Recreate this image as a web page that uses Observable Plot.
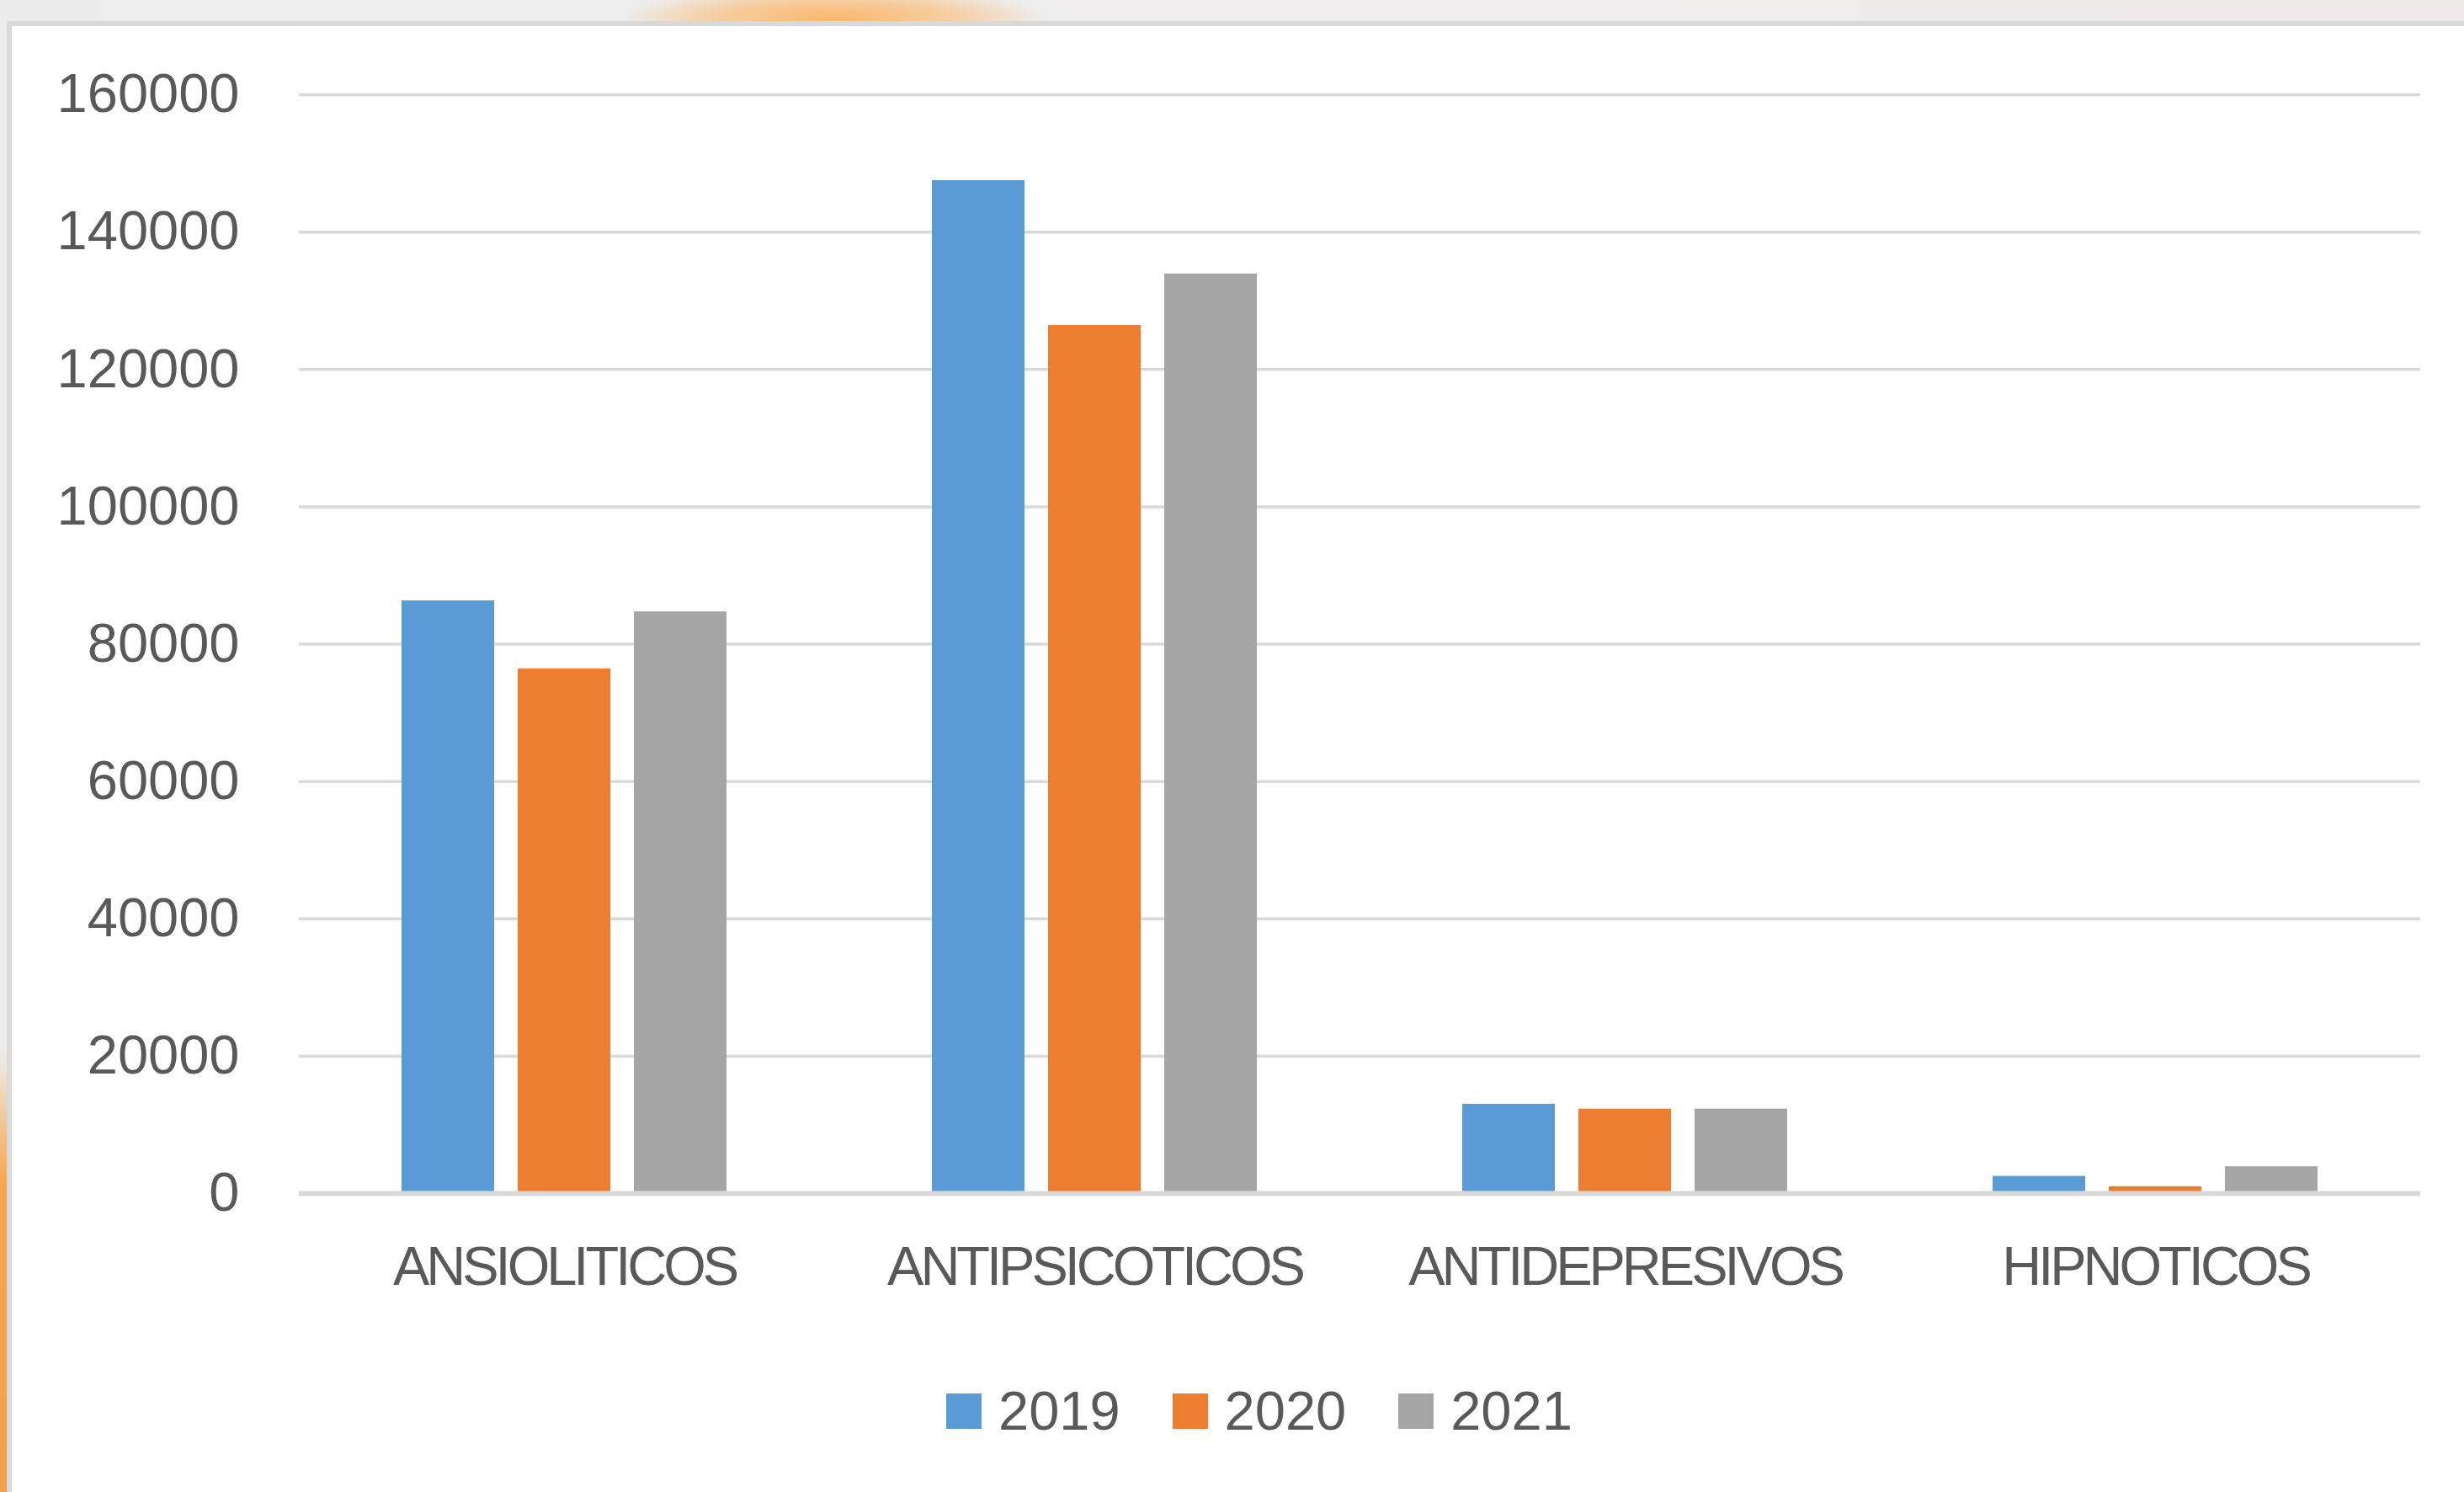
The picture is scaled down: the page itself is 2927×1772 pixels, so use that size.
<!DOCTYPE html>
<html>
<head>
<meta charset="utf-8">
<script src="https://cdn.jsdelivr.net/npm/d3@7"></script>
<script src="https://cdn.jsdelivr.net/npm/@observablehq/plot@0.6"></script>
<style>
  html, body { margin: 0; padding: 0; }
  body {
    width: 2927px; height: 1772px; overflow: hidden; position: relative;
    background:
      radial-gradient(ellipse 250px 40px at 990px 22px, #fbb86c 0%, rgba(251,184,108,0.6) 55%, rgba(251,184,108,0) 100%),
      linear-gradient(to right, #ececec, #efeded 60%, #ece9e8);
    font-family: "Liberation Sans", Arial, sans-serif;
  }
  #leftstrip {
    position: absolute; left: 0; top: 1250px; width: 8px; height: 522px;
    background: linear-gradient(to bottom, rgba(246,165,80,0) 0%, #f7a54c 30%, #f3a04e 100%);
  }
  #box {
    position: absolute; left: 8px; top: 25px; width: 2940px; height: 1770px;
    background: #ffffff;
    border-left: 6px solid #d9d9d9; border-top: 6px solid #d9d9d9;
  }
  #chart { position: absolute; left: 0; top: 0; }
  #chart [aria-label="fx-axis tick label"] text { letter-spacing: -4px; }
  #legend {
    position: absolute; top: 1643px; left: 1124px;
    display: flex; align-items: center; gap: 62px;
    font-family: "Liberation Sans", Arial, sans-serif; font-size: 65px; line-height: 65px; color: #595959;
  }
  .item { display: flex; align-items: center; }
  .sw { width: 42px; height: 42px; margin-right: 20px; }
</style>
</head>
<body>
<div id="leftstrip"></div>
<div id="box"></div>
<div id="chart"></div>
<div id="legend"></div>
<script>
const categories = ["ANSIOLITICOS", "ANTIPSICOTICOS", "ANTIDEPRESIVOS", "HIPNOTICOS"];
const years = ["2019", "2020", "2021"];
const values2019 = [86300, 147500, 13000, 2500];
const values2020 = [76400, 126400, 12300, 1000];
const values2021 = [84700, 133900, 12300, 3900];
const yTicks = [0, 20000, 40000, 60000, 80000, 100000, 120000, 140000, 160000];
const colors = ["#5B9BD5", "#ED7D31", "#A5A5A5"];

const series = [values2019, values2020, values2021];
const data = [];
categories.forEach((c, i) => {
  years.forEach((y, j) => data.push({category: c, year: y, value: series[j][i]}));
});

const textColor = "#595959";

const chart = Plot.plot({
  width: 2927,
  height: 1600,
  marginLeft: 355,
  marginRight: 52,
  marginTop: 112,
  marginBottom: 183,
  style: {fontFamily: "Liberation Sans, Arial, sans-serif", fontSize: "65px", color: textColor, background: "transparent"},
  fx: {domain: categories, padding: 0, label: null},
  x: {domain: years, paddingInner: 0.2, paddingOuter: 0.87, axis: null},
  y: {domain: [0, 160000], label: null},
  color: {domain: years, range: colors},
  marks: [
    Plot.ruleY(yTicks.filter(d => d > 0), {stroke: "#d9d9d9", strokeWidth: 3.5}),
    Plot.barY(data, {fx: "category", x: "year", y: "value", fill: "year"}),
    Plot.ruleY([0], {stroke: "#d9d9d9", strokeWidth: 6}),
    Plot.axisY({ticks: yTicks, tickSize: 0, tickPadding: 71, fontSize: 65, tickFormat: d => String(d), label: null, fill: textColor}),
    Plot.axisFx({anchor: "bottom", tickSize: 0, tickPadding: 62, fontSize: 65, label: null, fill: textColor})
  ]
});
document.getElementById("chart").appendChild(chart);

const legend = document.getElementById("legend");
years.forEach((y, i) => {
  const item = document.createElement("div");
  item.className = "item";
  const sw = document.createElement("div");
  sw.className = "sw";
  sw.style.background = colors[i];
  const t = document.createElement("span");
  t.textContent = y;
  item.appendChild(sw);
  item.appendChild(t);
  legend.appendChild(item);
});
</script>
</body>
</html>
